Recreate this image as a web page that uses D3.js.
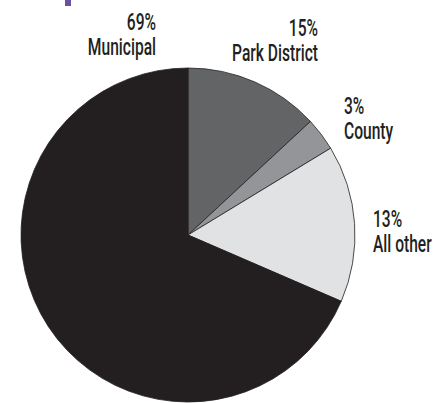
<!DOCTYPE html>
<html>
<head>
<meta charset="utf-8">
<script src="https://cdn.jsdelivr.net/npm/d3@7/dist/d3.min.js"></script>
<style>
  html, body { margin: 0; padding: 0; background: #ffffff; }
  svg { display: block; }
  .lbl { font-family: Roboto, "Open Sans", sans-serif; font-weight: 500; font-size: 23px; fill: #231f20; }
</style>
</head>
<body>
<svg id="chart" width="448" height="403"></svg>
<script>
// Data (values as drawn; clockwise from 12 o'clock)
const categories = ["Park District", "County", "All other", "Municipal"];
const values = [13.1, 3.2, 15.2, 68.5];
const percentLabels = ["15%", "3%", "13%", "69%"];
const colors = ["#636466", "#939598", "#e1e2e4", "#231f20"];

const svg = d3.select("#chart");
const cx = 188, cy = 235, R = 167;

// purple fragment of a cropped heading at top
svg.append("rect").attr("x", 65).attr("y", 0).attr("width", 6).attr("height", 6).attr("fill", "#6b4fa6");

const pie = d3.pie().sort(null).value(d => d.value).startAngle(0).endAngle(2 * Math.PI);
const arc = d3.arc().innerRadius(0).outerRadius(R);
const data = categories.map((c, i) => ({ name: c, value: values[i], pct: percentLabels[i], color: colors[i] }));

const g = svg.append("g").attr("transform", `translate(${cx},${cy})`);
g.selectAll("path")
  .data(pie(data))
  .join("path")
  .attr("d", arc)
  .attr("fill", d => d.data.color)
  .attr("stroke", "#231f20")
  .attr("stroke-width", 0.8)
  .attr("stroke-linejoin", "round");

// label layout (x, baseline of first line, anchor)
const labelLayout = {
  "Municipal":     { x: 156, y: 30, anchor: "end" },
  "Park District": { x: 318, y: 36, anchor: "end" },
  "County":        { x: 344, y: 114, anchor: "start" },
  "All other":     { x: 373, y: 227, anchor: "start" }
};
const lineGap = 25;

// condensed look: measure and compress horizontally
const probe = svg.append("text").attr("class", "lbl").text("Park District");
const sx = 86 / probe.node().getComputedTextLength();
probe.remove();

data.forEach(d => {
  const p = labelLayout[d.name];
  const t = svg.append("text").attr("class", "lbl").attr("text-anchor", p.anchor)
    .attr("transform", `translate(${p.x},${p.y}) scale(${sx},1)`);
  t.append("tspan").attr("x", 0).attr("y", 0).text(d.pct);
  t.append("tspan").attr("x", 0).attr("y", lineGap).text(d.name);
});
</script>
</body>
</html>
